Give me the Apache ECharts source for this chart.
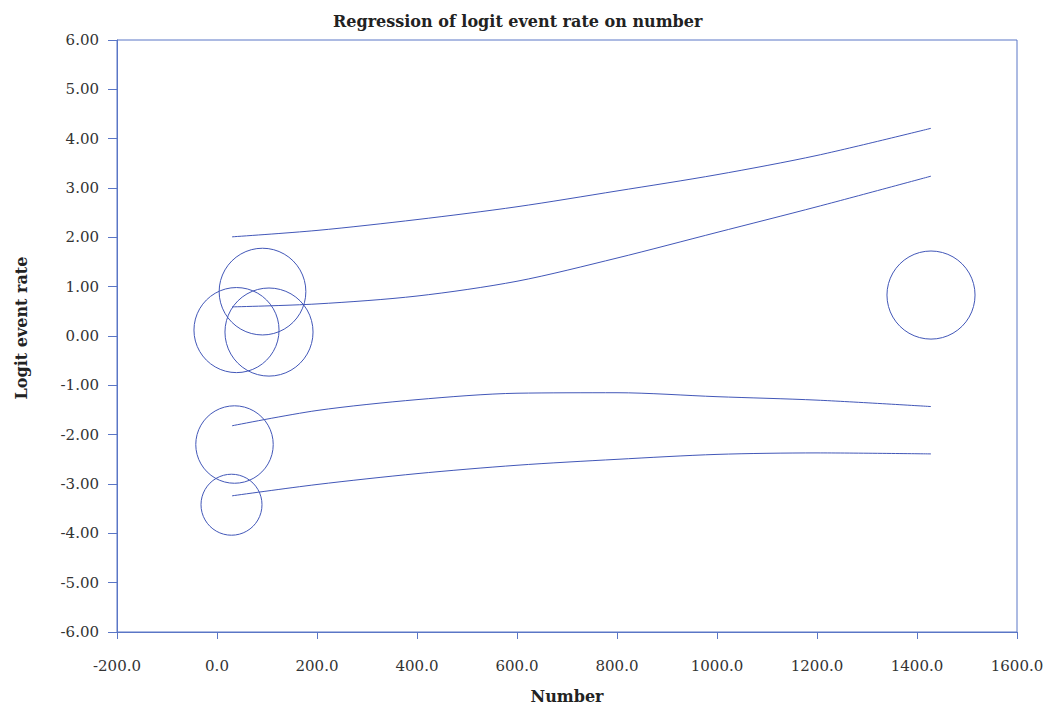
<!DOCTYPE html>
<html>
<head>
<meta charset="utf-8">
<script src="https://cdn.jsdelivr.net/npm/echarts@6/dist/echarts.min.js"></script>
<style>
  html, body { margin: 0; padding: 0; background: #ffffff; }
  #chart { width: 1048px; height: 709px; }
</style>
</head>
<body>
<div id="chart"></div>
<script>
// Studies: number (x), logit event rate (y), relative weight (%)
const studyNumber = [91, 39, 104, 35, 29, 1428];
const studyLogit = [0.90, 0.12, 0.08, -2.20, -3.42, 0.83];
const studyWeight = [18.8, 18.1, 19.4, 15.0, 9.3, 19.4];

// Curves, sampled along number
const curveX = [30, 200, 400, 600, 800, 1000, 1200, 1428];
const upperOuter = [2.01, 2.14, 2.36, 2.62, 2.94, 3.27, 3.66, 4.21];
const upperInner = [0.59, 0.65, 0.81, 1.11, 1.58, 2.10, 2.62, 3.24];
const lowerInner = [-1.82, -1.51, -1.29, -1.16, -1.15, -1.23, -1.30, -1.43];
const lowerOuter = [-3.24, -3.01, -2.79, -2.62, -2.50, -2.40, -2.37, -2.39];

const xTicks = { min: -200, max: 1600, step: 200 };
const yTicks = { min: -6, max: 6, step: 1 };

const axisColor = '#5a76c6';
const markColor = '#4257b8';
const fontFamily = '"DejaVu Serif", "Liberation Serif", serif';

function pairs(xs, ys) { return xs.map((x, i) => [x, ys[i]]); }

function curve(values) {
  return {
    type: 'line',
    data: pairs(curveX, values),
    smooth: 0.3,
    showSymbol: false,
    silent: true,
    lineStyle: { color: markColor, width: 1 },
    z: 3
  };
}

// Study bubbles: open circles, area proportional to weight
function renderBubble(params, api) {
  const c = api.coord([api.value(0), api.value(1)]);
  const r = 10 * Math.sqrt(api.value(2));
  return {
    type: 'circle',
    shape: { cx: c[0], cy: c[1], r },
    style: { fill: null, stroke: markColor, lineWidth: 1 }
  };
}

const chart = echarts.init(document.getElementById('chart'), null, { renderer: 'svg' });
chart.setOption({
  animation: false,
  backgroundColor: '#ffffff',
  title: {
    text: 'Regression of logit event rate on number',
    left: 328,
    top: 8,
    textStyle: { fontFamily, fontWeight: 'bold', fontSize: 16, color: '#222222' }
  },
  grid: {
    left: 117, right: 31, top: 40, bottom: 77,
    containLabel: false,
    outerBoundsMode: 'none',
    show: true, borderColor: axisColor, borderWidth: 1, backgroundColor: 'transparent'
  },
  xAxis: {
    type: 'value',
    min: xTicks.min, max: xTicks.max, interval: xTicks.step,
    name: 'Number',
    nameLocation: 'middle',
    nameGap: 56,
    nameTextStyle: { fontFamily, fontWeight: 'bold', fontSize: 16, color: '#222222' },
    axisLine: { show: true, onZero: false, lineStyle: { color: axisColor, width: 1 } },
    axisTick: { show: true, inside: false, length: 7, lineStyle: { color: axisColor } },
    axisLabel: {
      margin: 26, fontFamily, fontSize: 15, color: '#333333',
      formatter: v => v.toFixed(1)
    },
    splitLine: { show: false }
  },
  yAxis: {
    type: 'value',
    min: yTicks.min, max: yTicks.max, interval: yTicks.step,
    name: 'Logit event rate',
    nameLocation: 'middle',
    nameGap: 88,
    nameTextStyle: { fontFamily, fontWeight: 'bold', fontSize: 16, color: '#222222', padding: [0, 0, 0, 16] },
    axisLine: { show: true, onZero: false, lineStyle: { color: axisColor, width: 1 } },
    axisTick: { show: true, inside: false, length: 9, lineStyle: { color: axisColor } },
    axisLabel: {
      margin: 18, fontFamily, fontSize: 15, color: '#333333',
      formatter: v => v.toFixed(2)
    },
    splitLine: { show: false }
  },
  series: [
    curve(upperOuter),
    curve(upperInner),
    curve(lowerInner),
    curve(lowerOuter),
    {
      type: 'custom',
      data: studyNumber.map((x, i) => [x, studyLogit[i], studyWeight[i]]),
      renderItem: renderBubble,
      encode: { x: 0, y: 1 },
      clip: false,
      silent: true,
      z: 4
    }
  ]
});
</script>
</body>
</html>
